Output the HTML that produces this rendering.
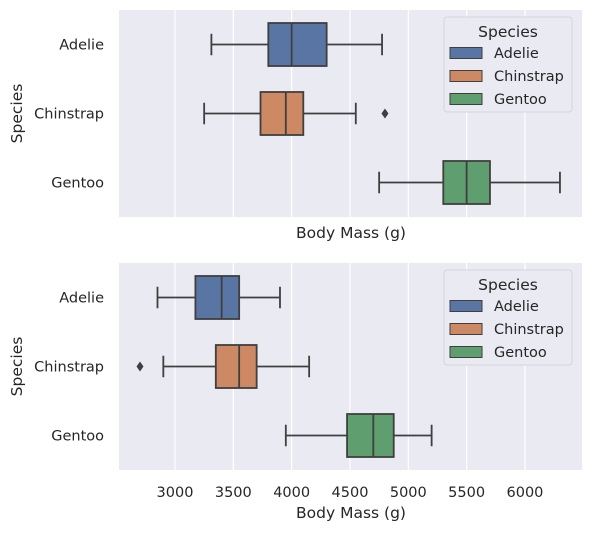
<!DOCTYPE html>
<html><head><meta charset="utf-8"><style>
body{margin:0;background:#fff}
svg text{font-family:"DejaVu Sans","Liberation Sans",sans-serif;fill:#262626}
</style></head><body>
<svg id="c" width="592" height="530"></svg>
<script>
const categories=["Adelie","Chinstrap","Gentoo"];
const colors=["#5975a4","#cc8963","#5f9e6e"];
const xTicks=[3000,3500,4000,4500,5000,5500,6000];
// [whiskerLow, q1, median, q3, whiskerHigh]
const topStats=[[3312,3800,4000,4300,4775],[3250,3733,3950,4100,4550],[4750,5300,5500,5700,6300]];
const topOutliers=[[],[4800],[]];
const botStats=[[2850,3175,3400,3550,3900],[2900,3350,3550,3700,4150],[3950,4475,4700,4875,5200]];
const botOutliers=[[],[2700],[]];
const xMin=2520,xMax=6489;
const L=119,R=582;
const ns="http://www.w3.org/2000/svg";
const svg=document.getElementById('c');
function el(t,a,p){const e=document.createElementNS(ns,t);for(const k in a)e.setAttribute(k,a[k]);(p||svg).appendChild(e);return e;}
function sx(v){return L+(v-xMin)/(xMax-xMin)*(R-L);}
function panel(top,stats,outs,showTicks,name){
  const H=207;
  const g=el('g',{});
  
  
  el('rect',{x:L,y:top,width:R-L,height:H,fill:'#eaeaf2'},g);
  xTicks.forEach(t=>{
    el('line',{x1:sx(t),x2:sx(t),y1:top,y2:top+H,stroke:'#fff','stroke-width':1.2},g);
    if(showTicks){const tx=el('text',{x:sx(t),y:top+H+27,'text-anchor':'middle','font-size':14.5},g);tx.textContent=t;
      }
  });
  const step=H/3;
  categories.forEach((c,i)=>{
    const cy=top+step*(i+0.5);const s=stats[i];const bh=43;
    const lab=el('text',{x:104,y:cy+5,'text-anchor':'end','font-size':14.5},g);lab.textContent=c;
    
    const b=el('g',{},g);
    
    
    const st={stroke:'#3f3f3f','stroke-width':1.8};
    el('line',Object.assign({x1:sx(s[0]),x2:sx(s[1]),y1:cy,y2:cy},st),b);
    el('line',Object.assign({x1:sx(s[3]),x2:sx(s[4]),y1:cy,y2:cy},st),b);
    el('line',Object.assign({x1:sx(s[0]),x2:sx(s[0]),y1:cy-bh/4,y2:cy+bh/4},st),b);
    el('line',Object.assign({x1:sx(s[4]),x2:sx(s[4]),y1:cy-bh/4,y2:cy+bh/4},st),b);
    el('rect',Object.assign({x:sx(s[1]),y:cy-bh/2,width:sx(s[3])-sx(s[1]),height:bh,fill:colors[i]},st),b);
    el('line',Object.assign({x1:sx(s[2]),x2:sx(s[2]),y1:cy-bh/2,y2:cy+bh/2},st),b);
    outs[i].forEach(o=>{const x=sx(o);el('polygon',{points:`${x},${cy-5} ${x+3.5},${cy} ${x},${cy+5} ${x-3.5},${cy}`,fill:'#3f3f3f'},b);});
  });
  const xl=el('text',{x:(L+R)/2+0.5,y:top+H+(showTicks?48:21),'text-anchor':'middle','font-size':15.5},g);xl.textContent='Body Mass (g)';
  
  const yl=el('text',{x:0,y:0,'text-anchor':'middle','font-size':15.5,transform:`translate(22,${top+H/2}) rotate(-90)`},g);yl.textContent='Species';
  
  const lg=el('g',{},g);
  
  
  el('rect',{x:444,y:top+7,width:128,height:95,rx:3,fill:'#eaeaf2',stroke:'#d4d4dc'},lg);
  const lt=el('text',{x:508,y:top+27,'text-anchor':'middle','font-size':15.5},lg);lt.textContent='Species';
  categories.forEach((c,i)=>{
    const y=top+43+i*23;
    el('rect',{x:450,y:y-5.5,width:32,height:11,fill:colors[i],stroke:'#3f3f3f','stroke-width':1},lg);
    const t=el('text',{x:494,y:y+5,'font-size':14.5},lg);t.textContent=c;
    
  });
}
panel(10,topStats,topOutliers,false,'top-panel');
panel(263,botStats,botOutliers,true,'bottom-panel');
</script>
</body></html>
